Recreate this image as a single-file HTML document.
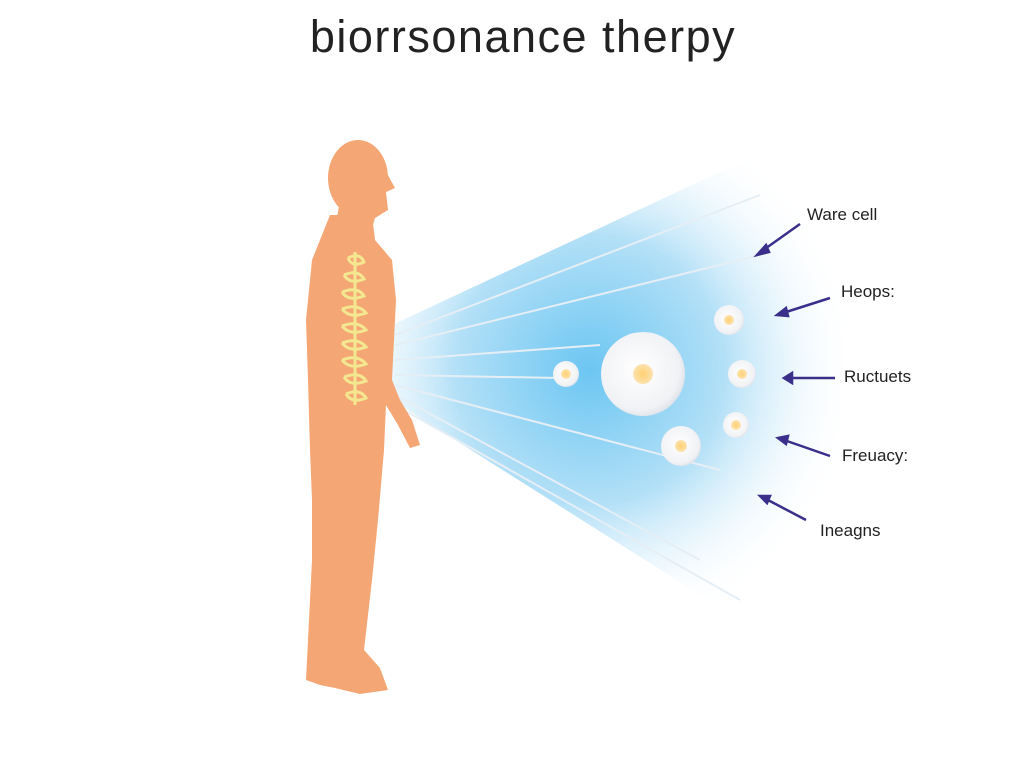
<!DOCTYPE html>
<html><head><style>
body{margin:0;background:#fff;}
svg{display:block}
text{font-family:"Liberation Sans",sans-serif;fill:#222}
</style></head><body>
<svg width="1024" height="768" viewBox="0 0 1024 768">
<defs>
<radialGradient id="bg" cx="590" cy="370" r="270" gradientUnits="userSpaceOnUse">
<stop offset="0" stop-color="#6cc6f2"/>
<stop offset="0.5" stop-color="#b3e0f7"/>
<stop offset="1" stop-color="#ffffff" stop-opacity="0"/>
</radialGradient>
<radialGradient id="cell" cx="0.45" cy="0.45" r="0.6">
<stop offset="0" stop-color="#ffffff"/><stop offset="0.8" stop-color="#f1f2f5"/><stop offset="1" stop-color="#d8dde4"/>
</radialGradient>
<radialGradient id="nuc"><stop offset="0" stop-color="#ffd070"/><stop offset="1" stop-color="#fbe2b0"/></radialGradient>
</defs>
<text x="523" y="52" font-size="45" text-anchor="middle" letter-spacing="1.5">biorrsonance therpy</text>
<polygon points="392,325 810,130 850,250 830,600 740,620 392,400" fill="url(#bg)"/>
<g stroke="#e6eef5" stroke-width="2" fill="none">
<line x1="395" y1="335" x2="760" y2="195"/><line x1="395" y1="345" x2="760" y2="255"/>
<line x1="395" y1="360" x2="600" y2="345"/><line x1="395" y1="375" x2="560" y2="378"/>
<line x1="395" y1="385" x2="720" y2="470"/><line x1="395" y1="395" x2="700" y2="560"/>
<line x1="395" y1="405" x2="740" y2="600"/>
</g>
<g fill="#f4a674">
<ellipse cx="358" cy="178" rx="30" ry="38"/>
<polygon points="384,168 395,188 386,192 388,210 375,218 370,235 335,230 340,200"/>
<path d="M330,215 L372,215 L375,240 L392,260 L396,300 L394,340 L392,380 L400,400 L412,420 L420,445 L410,448 L398,425 L386,405 L384,450 L378,520 L372,580 L364,650 L380,668 L388,690 L360,694 L335,688 L320,685 L306,680 L308,640 L312,560 L312,500 L310,450 L308,380 L306,320 L312,260 Z"/>
</g>
<g stroke="#f3e890" stroke-width="3" fill="none">
<path d="M348,258 q12,-6 16,4 q-12,6 -16,-4 M344,275 q14,-6 20,4 q-14,6 -20,-4 M342,292 q16,-6 22,4 q-16,6 -22,-4 M342,309 q16,-6 24,4 q-16,6 -24,-4 M342,326 q16,-6 24,4 q-16,6 -24,-4 M342,343 q16,-6 24,4 q-16,6 -24,-4 M342,360 q16,-6 24,4 q-16,6 -24,-4 M344,377 q16,-6 22,4 q-16,6 -22,-4 M346,394 q14,-6 20,4 q-14,6 -20,-4"/>
<line x1="355" y1="252" x2="355" y2="405"/>
</g>
<g>
<circle cx="566" cy="374" r="13" fill="url(#cell)"/><circle cx="566" cy="374" r="5" fill="url(#nuc)"/>
<circle cx="643" cy="374" r="42" fill="url(#cell)"/><circle cx="643" cy="374" r="10" fill="url(#nuc)"/>
<circle cx="729" cy="320" r="15" fill="url(#cell)"/><circle cx="729" cy="320" r="5" fill="url(#nuc)"/>
<circle cx="742" cy="374" r="14" fill="url(#cell)"/><circle cx="742" cy="374" r="5" fill="url(#nuc)"/>
<circle cx="736" cy="425" r="13" fill="url(#cell)"/><circle cx="736" cy="425" r="5" fill="url(#nuc)"/>
<circle cx="681" cy="446" r="20" fill="url(#cell)"/><circle cx="681" cy="446" r="6" fill="url(#nuc)"/>
</g>
<g stroke="#3a2f8a" stroke-width="2.5" fill="#3a2f8a">
<line x1="800" y1="224" x2="762" y2="251"/><polygon points="757,255 766,245 769,252"/>
<line x1="830" y1="298" x2="783" y2="313"/><polygon points="777,315 786,308 788,316"/>
<line x1="835" y1="378" x2="790" y2="378"/><polygon points="784,378 792,373 792,383"/>
<line x1="830" y1="456" x2="784" y2="440"/><polygon points="778,438 788,436 786,444"/>
<line x1="806" y1="520" x2="766" y2="499"/><polygon points="760,496 770,496 767,503"/>
</g>
<g font-size="17">
<text x="807" y="220">Ware cell</text>
<text x="841" y="297">Heops:</text>
<text x="844" y="382">Ructuets</text>
<text x="842" y="461">Freuacy:</text>
<text x="820" y="536">Ineagns</text>
</g>
</svg>
</body></html>
